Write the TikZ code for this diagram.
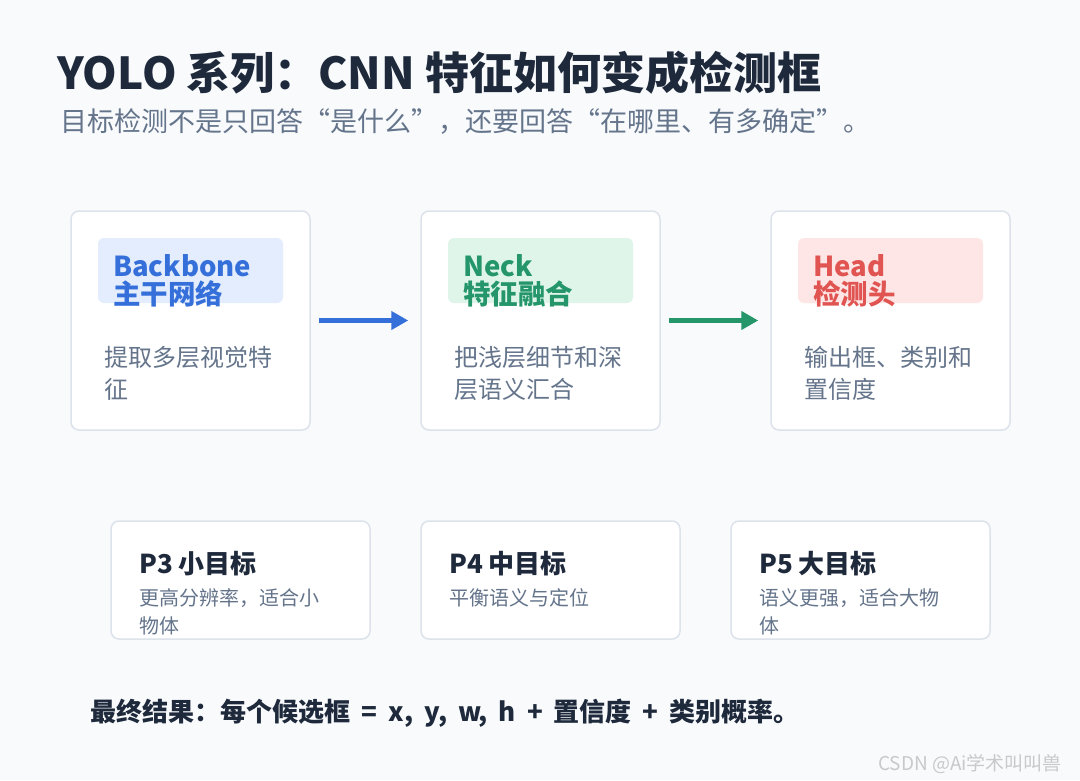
\documentclass[tikz,border=0pt]{standalone}
\usepackage{fontspec}
\setmainfont{Noto Sans CJK SC}
\usetikzlibrary{arrows.meta,positioning}

\definecolor{bgcol}{HTML}{F8FAFC}
\definecolor{cardline}{HTML}{DDE3EB}
\definecolor{inkdark}{HTML}{1E293B}
\definecolor{inkgray}{HTML}{64748B}
\definecolor{bbblue}{HTML}{3570DA}
\definecolor{bbfill}{HTML}{E3EDFD}
\definecolor{nkgreen}{HTML}{24966A}
\definecolor{nkfill}{HTML}{DFF5EA}
\definecolor{hdred}{HTML}{E05552}
\definecolor{hdfill}{HTML}{FDE6E5}
\definecolor{wmgray}{HTML}{C9C9C9}

\newcommand{\fsz}[2]{\fontsize{#1}{#2}\selectfont}

\begin{document}
\begin{tikzpicture}[x=1pt, y=-1pt,
  card/.style={draw=cardline, line width=1.5pt, fill=white, rounded corners=8pt, inner sep=0pt},
  tag/.style={rounded corners=6pt, inner sep=0pt, minimum width=185pt, minimum height=65pt},
  tagtext/.style={anchor=north west, inner sep=0pt, align=left, font=\bfseries\fsz{27.5}{28}},
  desc/.style={anchor=north west, inner sep=0pt, align=left, text=inkgray, font=\fsz{24}{32}},
  scaletitle/.style={anchor=north west, inner sep=0pt, text=inkdark, font=\bfseries\fsz{26}{26}},
  scaledesc/.style={anchor=north west, inner sep=0pt, align=left, text=inkgray, font=\fsz{20}{28}},
  flow/.style={line width=4.5pt, -{Triangle[length=17pt,width=18pt]}},
]

  % Page background
  \fill[bgcol] (0,0) rectangle (1080,780);
  \useasboundingbox (0,0) rectangle (1080,780);

  % Heading
  \node[anchor=base west, inner sep=0pt, text=inkdark, font=\bfseries\fsz{44}{44}] (title) at (57,89)
    {YOLO 系列：CNN 特征如何变成检测框};
  \node[anchor=base west, inner sep=0pt, text=inkgray, font=\fsz{27}{27}] (subtitle) at (60,131)
    {目标检测不是只回答“是什么”，还要回答“在哪里、有多确定”。};

  % Three stage cards
  \node[card, minimum width=239pt, minimum height=219pt] (backbone) at (190.5,320.5) {};
  \node[card, minimum width=239pt, minimum height=219pt] (neck)     at (540.5,320.5) {};
  \node[card, minimum width=239pt, minimum height=219pt] (head)     at (890.5,320.5) {};

  % Coloured tags
  \node[tag, fill=bbfill] (bbtag) at (190.5,270.5) {};
  \node[tag, fill=nkfill] (nktag) at (540.5,270.5) {};
  \node[tag, fill=hdfill] (hdtag) at (890.5,270.5) {};

  \node[tagtext, text=bbblue] (bbname) at (113,254) {Backbone\\主干网络};
  \node[tagtext, text=nkgreen] (nkname) at (463,254) {Neck\\特征融合};
  \node[tagtext, text=hdred]   (hdname) at (813,254) {Head\\检测头};

  \node[desc] (bbdesc) at (104,346) {提取多层视觉特\\征};
  \node[desc] (nkdesc) at (454,346) {把浅层细节和深\\层语义汇合};
  \node[desc] (hddesc) at (804,346) {输出框、类别和\\置信度};

  % Flow arrows
  \draw[flow, bbblue]  ([xshift=8pt]backbone.east) -- ([xshift=-12pt]neck.west);
  \draw[flow, nkgreen] ([xshift=8pt]neck.east)     -- ([xshift=-12pt]head.west);

  % Feature scales
  \node[card, minimum width=259pt, minimum height=118pt] (pthree) at (240.5,580) {};
  \node[card, minimum width=259pt, minimum height=118pt] (pfour)  at (550.5,580) {};
  \node[card, minimum width=259pt, minimum height=118pt] (pfive)  at (860.5,580) {};

  \node[scaletitle] (pthreename) at (139,551) {P3 小目标};
  \node[scaletitle] (pfourname)  at (449,551) {P4 中目标};
  \node[scaletitle] (pfivename)  at (759,551) {P5 大目标};

  \node[scaledesc] (pthreedesc) at (139,588) {更高分辨率，适合小\\物体};
  \node[scaledesc] (pfourdesc)  at (449,588) {平衡语义与定位};
  \node[scaledesc] (pfivedesc)  at (759,588) {语义更强，适合大物\\体};

  % Summary line
  \node[anchor=base west, inner sep=0pt, text=inkdark, font=\bfseries\fsz{26}{26}] (summary) at (90,721)
    {\spaceskip=11pt 最终结果：每个候选框 = x, y, w, h + 置信度 + 类别概率。};

  % Watermark
  \node[anchor=base west, inner sep=0pt, text=wmgray, font=\fsz{19}{19}] (mark) at (878,770)
    {CSDN @Ai学术叫叫兽};

\end{tikzpicture}
\end{document}
